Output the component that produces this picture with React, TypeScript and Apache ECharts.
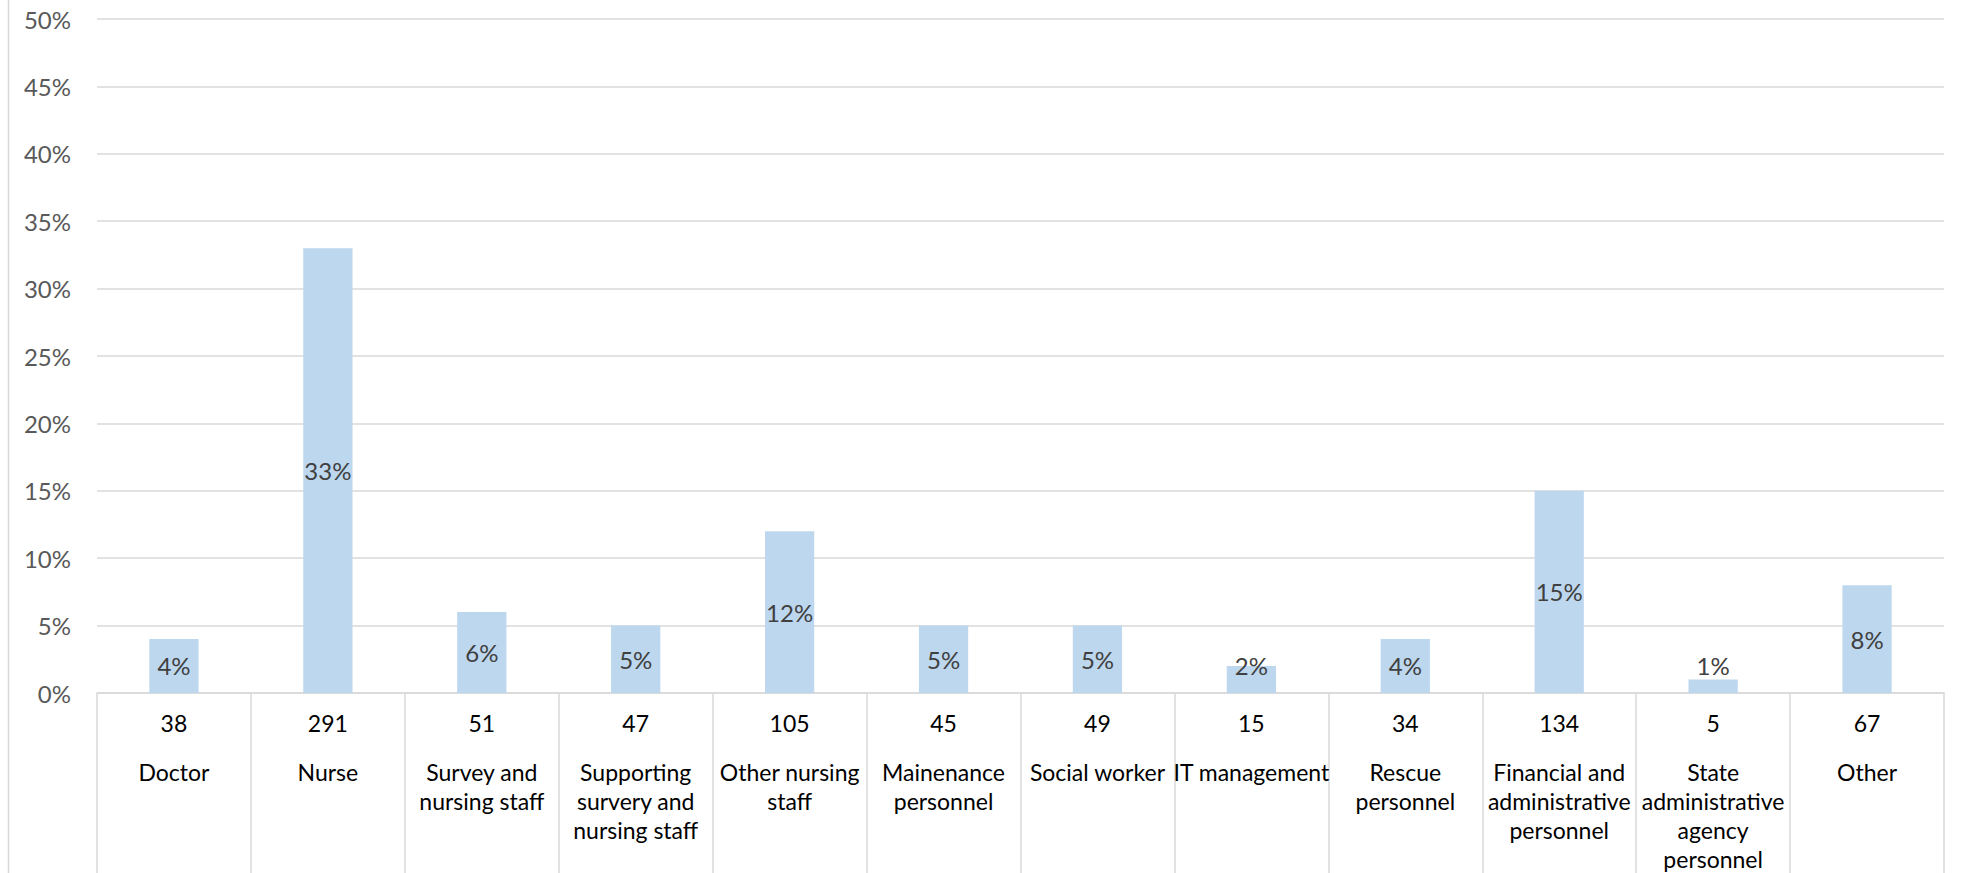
import React, { useEffect, useRef } from "react";
import * as echarts from "echarts";

const categories = [
  "Doctor",
  "Nurse",
  "Survey and\nnursing staff",
  "Supporting\nsurvery and\nnursing staff",
  "Other nursing\nstaff",
  "Mainenance\npersonnel",
  "Social worker",
  "IT management",
  "Rescue\npersonnel",
  "Financial and\nadministrative\npersonnel",
  "State\nadministrative\nagency\npersonnel",
  "Other",
];
const counts = ["38", "291", "51", "47", "105", "45", "49", "15", "34", "134", "5", "67"];
const percents = [4, 33, 6, 5, 12, 5, 5, 2, 4, 15, 1, 8];
const yTicks = { min: 0, max: 50, interval: 5 };

const FONT = "Lato, 'Noto Sans', sans-serif";

export default function App() {
  const ref = useRef<HTMLDivElement>(null);
  useEffect(() => {
    if (!ref.current) return;
    const chart = echarts.init(ref.current, undefined, { renderer: "svg" });
    chart.setOption({
      animation: false,
      backgroundColor: "#ffffff",
      textStyle: { fontFamily: FONT },
      grid: { left: 97, right: 22, top: 19, bottom: 177, containLabel: false },
      graphic: [
        {
          type: "line",
          shape: { x1: 8.5, y1: 0, x2: 8.5, y2: 873 },
          style: { stroke: "#d9d9d9", lineWidth: 1.5 },
        },
      ],
      xAxis: [
        {
          type: "category",
          data: categories,
          position: "bottom",
          axisLine: { show: true, lineStyle: { color: "#d9d9d9", width: 1.5 } },
          axisTick: {
            show: true,
            interval: 0,
            length: 190,
            lineStyle: { color: "#d9d9d9", width: 1.5 },
          },
          axisLabel: {
            interval: 0,
            margin: 64,
            color: "#000000",
            fontFamily: FONT,
            fontSize: 23,
            lineHeight: 29,
            align: "center",
            verticalAlign: "top",
          },
        },
        {
          type: "category",
          data: counts,
          position: "bottom",
          axisLine: { show: false },
          axisTick: { show: false },
          axisLabel: {
            interval: 0,
            margin: 15,
            color: "#000000",
            fontFamily: FONT,
            fontSize: 23,
            lineHeight: 29,
            verticalAlign: "top",
          },
        },
      ],
      yAxis: {
        type: "value",
        min: yTicks.min,
        max: yTicks.max,
        interval: yTicks.interval,
        axisLine: { show: false },
        axisTick: { show: false },
        axisLabel: {
          formatter: "{value}%",
          color: "#595959",
          fontFamily: FONT,
          fontSize: 24,
          margin: 26,
        },
        splitLine: { lineStyle: { color: "#d9d9d9", width: 1.5 } },
      },
      series: [
        {
          type: "bar",
          xAxisIndex: 0,
          data: percents,
          barWidth: "32%",
          itemStyle: { color: "#BDD7EE" },
          label: {
            show: true,
            position: "inside",
            formatter: "{c}%",
            color: "#404040",
            fontFamily: FONT,
            fontSize: 24,
          },
          labelLayout: (p: any) => {
            const r = p.rect;
            const top = Math.min(r.y, r.y + r.height);
            const bottom = Math.max(r.y, r.y + r.height);
            const center = (top + bottom) / 2;
            return {
              x: r.x + r.width / 2,
              y: Math.min(center, bottom - 28),
              align: "center",
              verticalAlign: "middle",
            };
          },
        },
      ],
    });
    return () => chart.dispose();
  }, []);
  return (
    <div
      ref={ref}
      style={{ position: "fixed", left: 0, top: 0, width: 1966, height: 873 }}
    />
  );
}
